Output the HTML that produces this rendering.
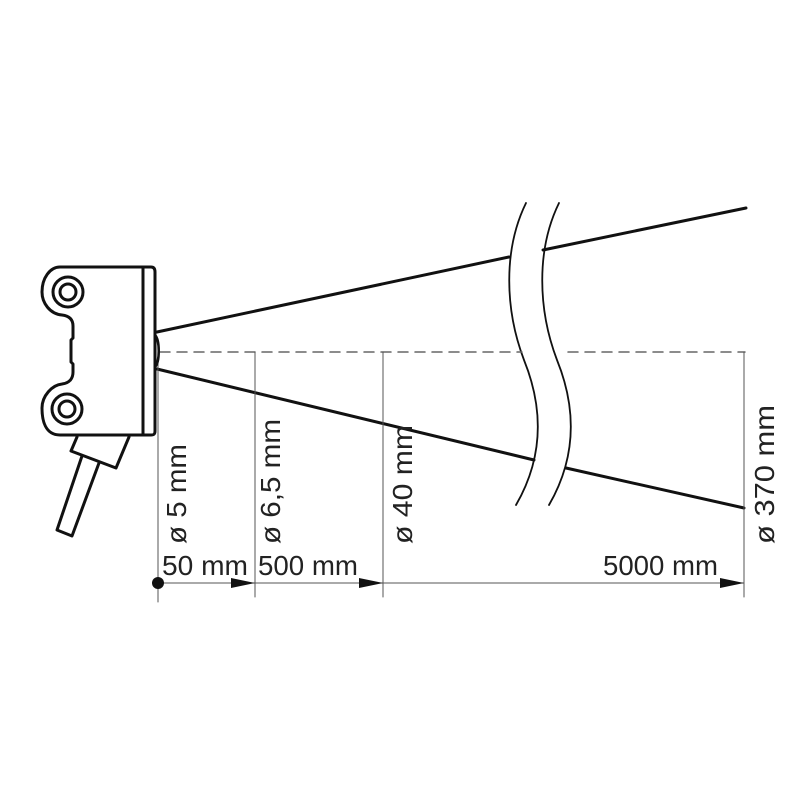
<!DOCTYPE html>
<html><head><meta charset="utf-8"><style>body{margin:0;background:#fff}svg{display:block}</style></head><body>
<svg width="800" height="800" viewBox="0 0 800 800" xmlns="http://www.w3.org/2000/svg" font-family="Liberation Sans, sans-serif" font-size="28" fill="#222">
<rect width="800" height="800" fill="#fff"/>
<g fill="none" stroke="#111" stroke-linecap="round" stroke-linejoin="round">
<path d="M157 332 L509 257 M543 250 L746 208" stroke-width="3"/>
<path d="M157 369 L534 460 M566 468 L744 508" stroke-width="3"/>
<path d="M526 203 C503 250 505 310 524 360 C545 412 542 460 516 505" stroke-width="1.8"/>
<path d="M559 203 C536 250 538 310 557 360 C578 412 575 460 549 505" stroke-width="1.8"/>
<path d="M160 352 L522 352 M568 352 L745 352" stroke="#666" stroke-width="1.5" stroke-dasharray="10 7"/>
<path d="M158 352 L158 602 M255 352 L255 597 M383 352 L383 597 M744 352 L744 597" stroke="#555" stroke-width="1"/>
<path d="M158 583 L744 583" stroke="#555" stroke-width="1"/>
<path d="M60 267 L143 267 L143 435 L60 435 C45 435 42 420 42 408 C42 396 52 385 62 384 C70 383 73 378 73 372 L73 364 L71 362 L71 340 L73 338 L73 326 C73 320 70 316 62 315 C50 314 42 303 42 292 C42 278 50 267 60 267 Z" stroke-width="3"/>
<path d="M143 267 L151 267 C154 267 155 269 155 272 L155 431 C155 434 154 435 151 435 L143 435" stroke-width="3"/>
<path d="M155 335 C160 340 160 362 155 367" stroke-width="2.5"/>
<circle cx="68" cy="292" r="15" stroke-width="3"/><circle cx="68" cy="292" r="8" stroke-width="3"/>
<circle cx="67" cy="409" r="15" stroke-width="3"/><circle cx="67" cy="409" r="8" stroke-width="3"/>
<path d="M77 437 L71 451 L116 468 L129 437" stroke-width="3"/>
<path d="M82 456 L57 530 L72 536 L99 463" stroke-width="3"/>
</g>
<circle cx="158" cy="583" r="6" fill="#111"/>
<polygon points="231,578 255,583 231,588" fill="#111"/>
<polygon points="359,578 383,583 359,588" fill="#111"/>
<polygon points="720,578 744,583 720,588" fill="#111"/>
<text x="162" y="575" textLength="86" lengthAdjust="spacingAndGlyphs">50 mm</text>
<text x="258" y="575" textLength="100" lengthAdjust="spacingAndGlyphs">500 mm</text>
<text x="603" y="575" textLength="115" lengthAdjust="spacingAndGlyphs">5000 mm</text>
<text transform="translate(186,544) rotate(-90)" textLength="100" lengthAdjust="spacingAndGlyphs">ø 5 mm</text>
<text transform="translate(280,544) rotate(-90)" textLength="125" lengthAdjust="spacingAndGlyphs">ø 6,5 mm</text>
<text transform="translate(412,544) rotate(-90)" textLength="119" lengthAdjust="spacingAndGlyphs">ø 40 mm</text>
<text transform="translate(774,544) rotate(-90)" textLength="139" lengthAdjust="spacingAndGlyphs">ø 370 mm</text>
</svg>
</body></html>
